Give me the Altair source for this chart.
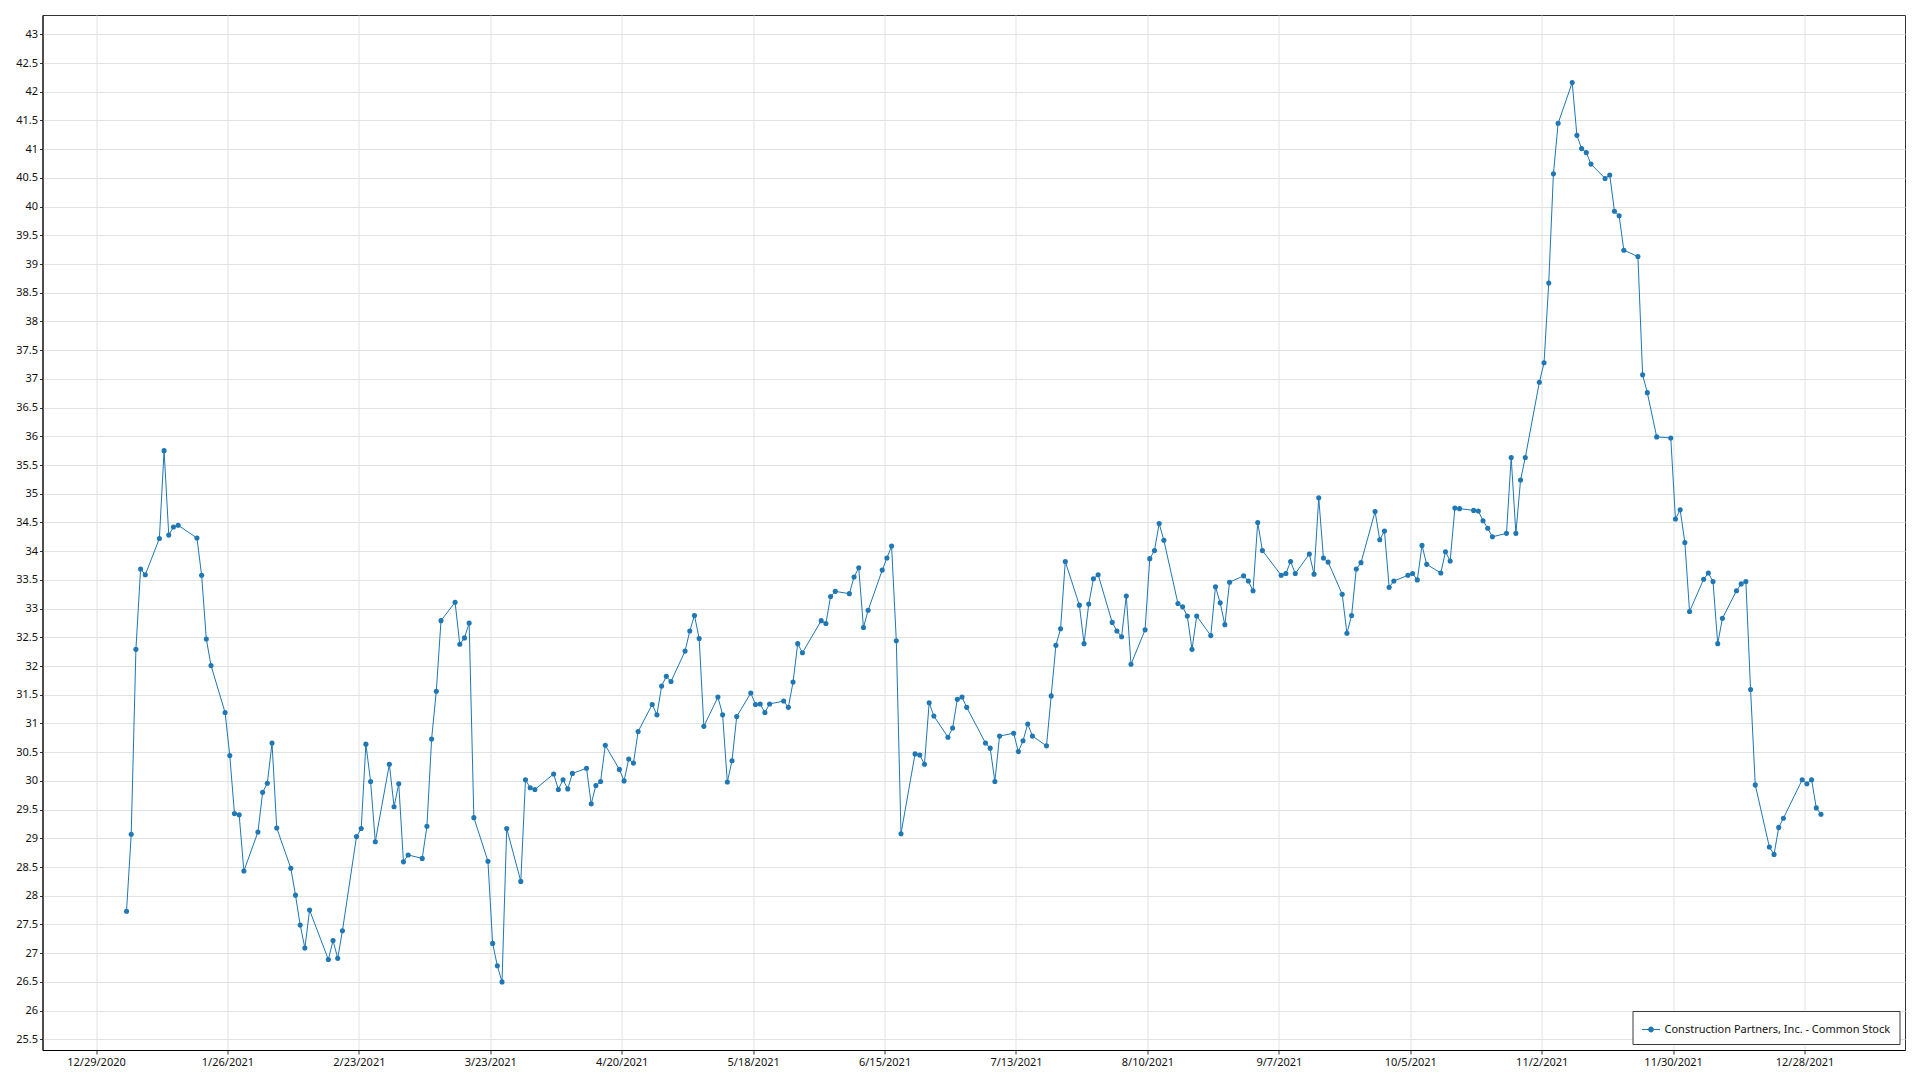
import altair as alt
import pandas as pd

SERIES = "Construction Partners, Inc. - Common Stock"

trade_dates = [
    "2021-01-04", "2021-01-05", "2021-01-06", "2021-01-07", "2021-01-08",
    "2021-01-11", "2021-01-12", "2021-01-13", "2021-01-14", "2021-01-15",
    "2021-01-19", "2021-01-20", "2021-01-21", "2021-01-22",
    "2021-01-25", "2021-01-26", "2021-01-27", "2021-01-28", "2021-01-29",
    "2021-02-01", "2021-02-02", "2021-02-03", "2021-02-04", "2021-02-05",
    "2021-02-08", "2021-02-09", "2021-02-10", "2021-02-11", "2021-02-12",
    "2021-02-16", "2021-02-17", "2021-02-18", "2021-02-19",
    "2021-02-22", "2021-02-23", "2021-02-24", "2021-02-25", "2021-02-26",
    "2021-03-01", "2021-03-02", "2021-03-03", "2021-03-04", "2021-03-05",
    "2021-03-08", "2021-03-09", "2021-03-10", "2021-03-11", "2021-03-12",
    "2021-03-15", "2021-03-16", "2021-03-17", "2021-03-18", "2021-03-19",
    "2021-03-22", "2021-03-23", "2021-03-24", "2021-03-25", "2021-03-26",
    "2021-03-29", "2021-03-30", "2021-03-31", "2021-04-01",
    "2021-04-05", "2021-04-06", "2021-04-07", "2021-04-08", "2021-04-09",
    "2021-04-12", "2021-04-13", "2021-04-14", "2021-04-15", "2021-04-16",
    "2021-04-19", "2021-04-20", "2021-04-21", "2021-04-22", "2021-04-23",
    "2021-04-26", "2021-04-27", "2021-04-28", "2021-04-29", "2021-04-30",
    "2021-05-03", "2021-05-04", "2021-05-05", "2021-05-06", "2021-05-07",
    "2021-05-10", "2021-05-11", "2021-05-12", "2021-05-13", "2021-05-14",
    "2021-05-17", "2021-05-18", "2021-05-19", "2021-05-20", "2021-05-21",
    "2021-05-24", "2021-05-25", "2021-05-26", "2021-05-27", "2021-05-28",
    "2021-06-01", "2021-06-02", "2021-06-03", "2021-06-04",
    "2021-06-07", "2021-06-08", "2021-06-09", "2021-06-10", "2021-06-11",
    "2021-06-14", "2021-06-15", "2021-06-16", "2021-06-17", "2021-06-18",
    "2021-06-21", "2021-06-22", "2021-06-23", "2021-06-24", "2021-06-25",
    "2021-06-28", "2021-06-29", "2021-06-30", "2021-07-01", "2021-07-02",
    "2021-07-06", "2021-07-07", "2021-07-08", "2021-07-09",
    "2021-07-12", "2021-07-13", "2021-07-14", "2021-07-15", "2021-07-16",
    "2021-07-19", "2021-07-20", "2021-07-21", "2021-07-22", "2021-07-23",
    "2021-07-26", "2021-07-27", "2021-07-28", "2021-07-29", "2021-07-30",
    "2021-08-02", "2021-08-03", "2021-08-04", "2021-08-05", "2021-08-06",
    "2021-08-09", "2021-08-10", "2021-08-11", "2021-08-12", "2021-08-13",
    "2021-08-16", "2021-08-17", "2021-08-18", "2021-08-19", "2021-08-20",
    "2021-08-23", "2021-08-24", "2021-08-25", "2021-08-26", "2021-08-27",
    "2021-08-30", "2021-08-31", "2021-09-01", "2021-09-02", "2021-09-03",
    "2021-09-07", "2021-09-08", "2021-09-09", "2021-09-10",
    "2021-09-13", "2021-09-14", "2021-09-15", "2021-09-16", "2021-09-17",
    "2021-09-20", "2021-09-21", "2021-09-22", "2021-09-23", "2021-09-24",
    "2021-09-27", "2021-09-28", "2021-09-29", "2021-09-30", "2021-10-01",
    "2021-10-04", "2021-10-05", "2021-10-06", "2021-10-07", "2021-10-08",
    "2021-10-11", "2021-10-12", "2021-10-13", "2021-10-14", "2021-10-15",
    "2021-10-18", "2021-10-19", "2021-10-20", "2021-10-21", "2021-10-22",
    "2021-10-25", "2021-10-26", "2021-10-27", "2021-10-28", "2021-10-29",
    "2021-11-01", "2021-11-02", "2021-11-03", "2021-11-04", "2021-11-05",
    "2021-11-08", "2021-11-09", "2021-11-10", "2021-11-11", "2021-11-12",
    "2021-11-15", "2021-11-16", "2021-11-17", "2021-11-18", "2021-11-19",
    "2021-11-22", "2021-11-23", "2021-11-24", "2021-11-26",
    "2021-11-29", "2021-11-30", "2021-12-01", "2021-12-02", "2021-12-03",
    "2021-12-06", "2021-12-07", "2021-12-08", "2021-12-09", "2021-12-10",
    "2021-12-13", "2021-12-14", "2021-12-15", "2021-12-16", "2021-12-17",
    "2021-12-20", "2021-12-21", "2021-12-22", "2021-12-23",
    "2021-12-27", "2021-12-28", "2021-12-29", "2021-12-30", "2021-12-31",
]

close_prices = [
    27.73, 29.07, 32.29, 33.69, 33.59,
    34.22, 35.75, 34.28, 34.42, 34.45,
    34.23, 33.58, 32.47, 32.01,
    31.19, 30.44, 29.43, 29.41, 28.43,
    29.11, 29.80, 29.96, 30.66, 29.18,
    28.48, 28.01, 27.49, 27.09, 27.75,
    26.89, 27.22, 26.91, 27.39,
    29.03, 29.17, 30.64, 29.99, 28.94,
    30.29, 29.55, 29.95, 28.59, 28.71,
    28.65, 29.21, 30.73, 31.56, 32.79,
    33.11, 32.38, 32.49, 32.75, 29.36,
    28.60, 27.17, 26.78, 26.50, 29.17,
    28.25, 30.02, 29.88, 29.85,
    30.12, 29.85, 30.02, 29.86, 30.13,
    30.22, 29.60, 29.92, 29.99, 30.62,
    30.20, 30.00, 30.38, 30.31, 30.86,
    31.33, 31.15, 31.65, 31.82, 31.73,
    32.26, 32.61, 32.88, 32.48, 30.95,
    31.46, 31.15, 29.98, 30.35, 31.12,
    31.53, 31.33, 31.34, 31.19, 31.34,
    31.39, 31.28, 31.72, 32.39, 32.23,
    32.79, 32.74, 33.21, 33.30,
    33.26, 33.55, 33.71, 32.67, 32.97,
    33.67, 33.88, 34.09, 32.44, 29.08,
    30.47, 30.45, 30.29, 31.36, 31.13,
    30.76, 30.92, 31.42, 31.46, 31.28,
    30.66, 30.57, 29.99, 30.78,
    30.83, 30.51, 30.70, 30.99, 30.78,
    30.61, 31.48, 32.36, 32.65, 33.82,
    33.06, 32.39, 33.08, 33.52, 33.59,
    32.76, 32.61, 32.51, 33.22, 32.03,
    32.63, 33.87, 34.01, 34.48, 34.19,
    33.09, 33.03, 32.87, 32.29, 32.87,
    32.53, 33.38, 33.10, 32.72, 33.46,
    33.57, 33.48, 33.31, 34.50, 34.01,
    33.58, 33.61, 33.82, 33.61,
    33.95, 33.60, 34.93, 33.88, 33.81,
    33.25, 32.57, 32.88, 33.69, 33.80,
    34.69, 34.20, 34.35, 33.37, 33.48,
    33.58, 33.61, 33.50, 34.10, 33.77,
    33.62, 33.99, 33.83, 34.75, 34.74,
    34.71, 34.70, 34.53, 34.40, 34.25,
    34.31, 35.63, 34.31, 35.24, 35.63,
    36.94, 37.28, 38.67, 40.57, 41.45,
    42.16, 41.24, 41.01, 40.94, 40.74,
    40.49, 40.55, 39.92, 39.84, 39.24,
    39.13, 37.07, 36.76, 35.99,
    35.97, 34.56, 34.72, 34.15, 32.95,
    33.51, 33.62, 33.47, 32.39, 32.83,
    33.31, 33.43, 33.47, 31.59, 29.93,
    28.85, 28.72, 29.19, 29.35,
    30.02, 29.95, 30.02, 29.53, 29.42,
]

x_tick_dates = [
    "2020-12-29", "2021-01-26", "2021-02-23", "2021-03-23", "2021-04-20",
    "2021-05-18", "2021-06-15", "2021-07-13", "2021-08-10", "2021-09-07",
    "2021-10-05", "2021-11-02", "2021-11-30", "2021-12-28",
]
y_tick_values = [25.5 + 0.5 * i for i in range(36)]

FONT = "Noto Sans"
LINE_COLOR = "#1f77b4"


def to_dt(s, hours=0, minutes=0):
    y, m, d = (int(p) for p in s.split("-"))
    return alt.DateTime(year=y, month=m, date=d, hours=hours, minutes=minutes)


df = pd.DataFrame({
    "date": [d + "T12:00:00" for d in trade_dates],
    "close": close_prices,
    "series": [SERIES] * len(close_prices),
})

x_enc = alt.X(
    "date:T",
    scale=alt.Scale(domain=[to_dt("2020-12-17", 14, 24), to_dt("2022-01-18", 9, 36)]),
    axis=alt.Axis(
        values=[to_dt(s) for s in x_tick_dates],
        format="%-m/%-d/%Y",
        title=None,
        labelFlush=False,
        labelOverlap=False,
        tickSize=4,
        labelPadding=2,
    ),
)
y_enc = alt.Y(
    "close:Q",
    scale=alt.Scale(domain=[25.314, 43.336], nice=False, zero=False),
    axis=alt.Axis(
        values=y_tick_values,
        format=".1~f",
        title=None,
        tickSize=3,
        labelPadding=2,
        labelOverlap=False,
        labelFlush=False,
    ),
)

line = alt.Chart(df).mark_line(strokeWidth=1, color=LINE_COLOR, clip=True).encode(
    x=x_enc, y=y_enc
)

points = alt.Chart(df).mark_point(filled=True, size=26, opacity=1, clip=True).encode(
    x=x_enc,
    y=y_enc,
    color=alt.Color(
        "series:N",
        scale=alt.Scale(range=[LINE_COLOR]),
        legend=alt.Legend(
            title=None,
            orient="bottom-right",
            offset=6,
            padding=9,
            strokeColor="#3a3a3a",
            fillColor="#ffffff",
            symbolType="M-1,0L-0.28,0M0.28,0L1,0M-0.28,0a0.28,0.28 0 1,0 0.56,0a0.28,0.28 0 1,0 -0.56,0",
            symbolSize=324,
            symbolStrokeColor=LINE_COLOR,
            symbolStrokeWidth=1,
            symbolFillColor=LINE_COLOR,
            labelFontSize=11,
            labelFont=FONT,
            labelColor="#111111",
            labelLimit=500,
        ),
    ),
)

chart = (
    alt.layer(line, points)
    .properties(
        width=1862.5,
        height=1035,
        autosize=alt.AutoSizeParams(type="none"),
        padding={"left": 34.5, "top": 7, "right": 7, "bottom": 20},
    )
    .configure_view(stroke="#333333", strokeWidth=1)
    .configure_axis(
        labelFont=FONT,
        labelFontSize=11,
        labelColor="#111111",
        domainColor="#000000",
        domainWidth=1,
        tickColor="#333333",
        gridColor="#e2e2e2",
        gridWidth=1,
    )
)

chart.save("out.html", embed_options={"renderer": "svg", "actions": False})
